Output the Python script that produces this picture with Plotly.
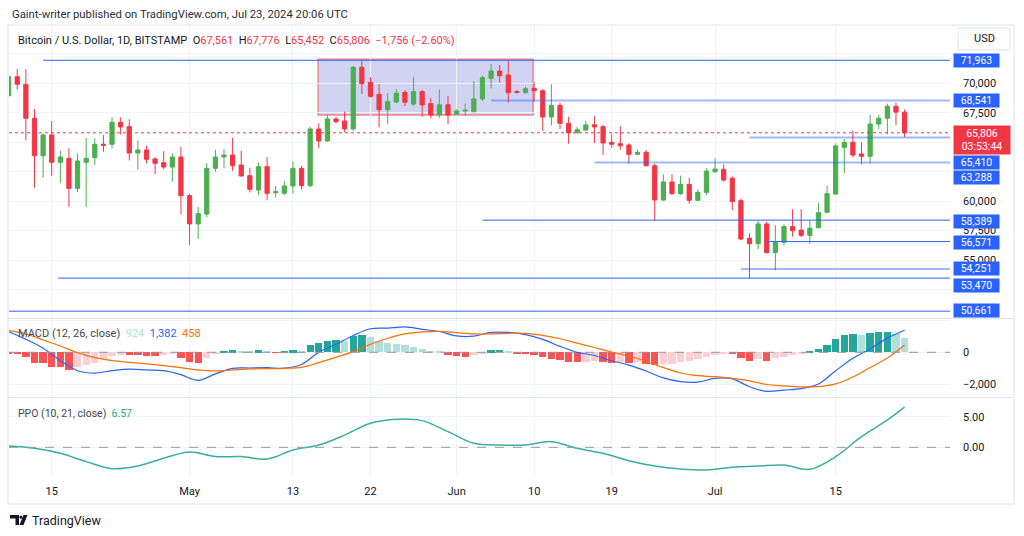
import plotly.graph_objects as go
import pandas as pd

# ---------------- data ----------------
dates = pd.date_range("2024-04-10", "2024-07-23", freq="D")

opens = [68960, 70570, 69920, 67040, 63860, 65620, 63300, 63640, 61090, 63300, 63690, 64830, 64830, 66700, 66330, 64090, 64350, 63590, 63270, 62900, 63750,
         60470, 58070, 58910, 62790, 63750, 63920, 63070, 62170, 60950, 62930, 60720, 60670, 61290, 62790, 61320, 66130, 65110, 66980, 66810, 66130, 71370, 70090, 69070, 67770, 68420, 69240, 68250, 69300, 68280, 67320, 68190,
         67380, 67660, 67600, 68680, 70430, 71050, 70710, 69300, 69210, 69580, 69380, 67150, 68140, 66610, 65810, 66040, 66490, 66330, 65000, 64880, 64770, 63980, 64150, 63010, 60100, 61630, 60640, 61430, 60075, 60750,
         62500, 62700, 61950, 60040, 56850, 56390, 58070, 55630, 56510, 57840, 57550, 57100, 57750, 59060, 60610, 64570, 65000, 64010, 63810, 66550, 67040, 68060, 67561]
highs = [70750, 71220, 71220, 67830, 65763, 66810, 64290, 64490, 64030, 65390, 65340, 65620, 67120, 67120, 66950, 65140, 64710, 63730, 64240, 64060, 64630,
         60640, 59510, 63220, 64380, 64430, 65390, 64260, 62840, 63270, 63750, 61290, 61710, 63350, 62990, 66330, 66610, 67320, 67170, 67600, 71480, 71900, 70540, 69950, 69160, 69520, 69410, 70520, 69440, 68740, 69490, 68930,
         67800, 68280, 70200, 70650, 71650, 71560, 71900, 69420, 69720, 70090, 69520, 69920, 68360, 67170, 66300, 66810, 67230, 66470, 65680, 66360, 64910, 64370, 64350, 63180, 62280, 62280, 62170, 62000, 61010, 62790,
         63640, 63130, 62110, 60240, 57270, 58320, 58260, 57980, 58040, 59310, 59340, 58400, 59870, 61320, 64910, 65280, 66020, 65000, 67320, 67320, 68280, 68360, 67776]
lows = [68800, 69465, 65170, 61145, 62000, 62165, 61570, 59530, 60750, 59530, 63070, 64200, 64490, 65680, 63470, 62670, 63220, 62280, 62700, 61650, 58890,
        56280, 56790, 58660, 62500, 62790, 62570, 62080, 60750, 60530, 60075, 60330, 60530, 60670, 61010, 61180, 64490, 65050, 66610, 65850, 65960, 69100, 68790, 66270, 66530, 68360, 68080, 68110, 67150, 67040, 67090, 66530,
        67300, 67230, 67550, 68510, 69580, 70060, 68360, 69150, 69130, 68450, 65960, 66410, 66130, 64880, 65760, 65980, 64940, 63920, 64540, 64370, 63180, 63920, 62960, 58340, 60040, 60530, 60530, 59790, 60040, 60530,
        62370, 61650, 59230, 56680, 53450, 55940, 55570, 54130, 56220, 56990, 56960, 56390, 57700, 59000, 60530, 62370, 63730, 63130, 63180, 66130, 65680, 66470, 65452]
closes = [70570, 69920, 67040, 63860, 65620, 63300, 63750, 61090, 63410, 63640, 64830, 64750, 66700, 66300, 64090, 64350, 63560, 63220, 62900, 63750, 60470,
          58070, 58940, 62790, 63750, 63920, 63010, 62140, 61010, 62930, 60670, 60800, 61290, 62790, 61320, 66130, 65110, 66980, 66750, 66130, 71370, 69980, 68900, 67770, 68450, 69160, 68400, 69300, 68170, 67320, 68190, 67320,
          67660, 67720, 68680, 70480, 71050, 70650, 69210, 69240, 69550, 69380, 67150, 68140, 66610, 65810, 66070, 66470, 66300, 64940, 64830, 64710, 63980, 64150, 63010, 60100, 61630, 60640, 61430, 60075, 60750, 62560,
          62730, 61800, 59960, 56790, 56390, 58070, 55630, 56510, 57840, 57490, 57100, 57700, 59020, 60640, 64690, 65000, 63920, 63810, 66550, 67040, 68060, 67561, 65806]
change_abs = 1756
change_pct = 2.60

level_prices = [71963, 68541, 65410, 63288, 58389, 56571, 54251, 53470, 50661]
level_starts = ["2024-04-14", "2024-06-05", "2024-07-05", "2024-06-17", "2024-06-04",
                "2024-07-07", "2024-07-04", "2024-04-15 17:30", "2024-04-10 01:00"]
level_light = [False, True, True, True, False, False, True, False, False]
label_shift = [0, 0, -25, -15, -1, -1, 0, -7, 1]

zone_dates = ["2024-05-15 22:00", "2024-06-09 21:00"]
zone_prices = [67320, 72040]

countdown = "03:53:44"

hist = [-100, -125, -312, -646, -687, -896, -937, -1104, -937, -792, -646, -437, -229, -146, -156, -167, -208, -229, -187, -104, -375,
        -583, -646, -375, -104, 83, 125, 83, 62, 125, 62, -42, 21, 125, 104, 437, 562, 687, 771, 687, 1042, 1083, 937, 729, 583, 542, 437, 354, 187, 62, 21, -167,
        -208, -271, -167, -62, 125, 135, 62, -83, -127, -140, -318, -403, -488, -615, -636, -615, -551, -636, -657, -594, -657, -600, -742, -806, -742, -700, -636, -551, -424, -276,
        -148, -85, -127, -360, -530, -445, -530, -382, -276, -191, -127, 42, 191, 466, 827, 1081, 1145, 1081, 1187, 1250, 1260, 1166, 924]

macd_dates = dates[::2]
macd_line = [1291, 812, 250, -521, -1150, -1300, -1150, -1050, -1100, -1150,
             -1400, -1750, -1350, -1000, -980, -960, -990, -760, 0, 500,
             1050, 1470, 1510, 1583, 1437, 1300, 1021, 1010, 1240, 1249,
             1110, 810, 370, 0, -200, -530, -800, -1170, -1600, -1830,
             -1860, -1630, -1660, -2150, -2440, -2360, -2270, -1980, -1155, -370,
             210, 885, 1382]
signal_line = [1354, 1146, 771, 396, -21, -333, -521, -625, -729, -833,
               -958, -1104, -1166, -1104, -1041, -1021, -1000, -937, -646, -312,
               42, 500, 875, 1146, 1271, 1312, 1229, 1146, 1146, 1187,
               1187, 1060, 848, 572, 297, 21, -233, -573, -954, -1293,
               -1463, -1526, -1632, -1781, -2014, -2099, -2162, -2141, -1971, -1548,
               -954, -360, 458]

ppo_dates = ["2024-04-10", "2024-04-13", "2024-04-16", "2024-04-19", "2024-04-22", "2024-04-25", "2024-04-28",
             "2024-05-01", "2024-05-04", "2024-05-07", "2024-05-10", "2024-05-13", "2024-05-16", "2024-05-19",
             "2024-05-22", "2024-05-25", "2024-05-28", "2024-05-31", "2024-06-03", "2024-06-06", "2024-06-09",
             "2024-06-12", "2024-06-15", "2024-06-18", "2024-06-21", "2024-06-24", "2024-06-27", "2024-06-30",
             "2024-07-03", "2024-07-06", "2024-07-09", "2024-07-12", "2024-07-15", "2024-07-18", "2024-07-21", "2024-07-23"]
ppo_vals = [0.22, -0.16, -0.98, -2.34, -3.49, -3.05, -1.80, -0.76, -1.52, -1.52, -1.91, -0.44, 0.38, 2.0,
            3.92, 4.58, 4.36, 2.56, 0.65, 0.38, 0.38, 0.93, -0.16, -0.98, -2.18, -3.05, -3.54, -3.70,
            -3.27, -3.05, -2.89, -3.59, -1.52, 1.74, 4.47, 6.57]

tick_dates = ["2024-04-15", "2024-05-01", "2024-05-13", "2024-05-22", "2024-06-01",
              "2024-06-10", "2024-06-19", "2024-07-01", "2024-07-15"]
tick_text = ["15", "May", "13", "22", "Jun", "10", "19", "Jul", "15"]
price_ticks = [52500, 55000, 57500, 60000, 62500, 65000, 67500, 70000, 72500]
price_shown = [False, True, True, True, False, False, True, True, False]

# ---------------- helpers ----------------
W, H = 1024, 536
FONT = "Roboto"
TXT = "#131722"
GRID = "#f0f3fa"


def px(x):
    return x / W


def py(y):
    return 1 - y / H


XR = ["2024-04-10 01:00", "2024-07-28 06:30"]
XDOM = [px(9), px(950)]

fig = go.Figure()

fig.add_trace(go.Candlestick(
    x=dates, open=opens, high=highs, low=lows, close=closes,
    increasing=dict(line=dict(color="#4caf50", width=1), fillcolor="#4caf50"),
    decreasing=dict(line=dict(color="#f23645", width=1), fillcolor="#f23645"),
    whiskerwidth=0, xaxis="x", yaxis="y", showlegend=False, hoverinfo="skip"))

hist_colors = []
prev = 0
for v in hist:
    if v >= 0:
        hist_colors.append("#26a69a" if v > prev else "#b2dfdb")
    else:
        hist_colors.append("#ff5252" if v < prev else "#ffcdd2")
    prev = v

fig.add_trace(go.Bar(x=dates, y=hist, marker=dict(color=hist_colors, line=dict(width=0)),
                     width=0.85 * 86400000, xaxis="x2", yaxis="y2", showlegend=False, hoverinfo="skip"))
fig.add_trace(go.Scatter(x=macd_dates, y=macd_line, mode="lines",
                         line=dict(color="#2962ff", width=1.2, shape="spline"),
                         xaxis="x2", yaxis="y2", showlegend=False, hoverinfo="skip"))
fig.add_trace(go.Scatter(x=macd_dates, y=signal_line, mode="lines",
                         line=dict(color="#ff6d00", width=1.2, shape="spline"),
                         xaxis="x2", yaxis="y2", showlegend=False, hoverinfo="skip"))
fig.add_trace(go.Scatter(x=ppo_dates, y=ppo_vals, mode="lines",
                         line=dict(color="#3aae9f", width=1.5, shape="spline"),
                         xaxis="x3", yaxis="y3", showlegend=False, hoverinfo="skip"))

shapes = []
annotations = []

# zone rectangle
shapes.append(dict(type="rect", xref="x", yref="y", x0=zone_dates[0], x1=zone_dates[1],
                   y0=zone_prices[0], y1=zone_prices[1], fillcolor="rgba(66,80,200,0.25)",
                   line=dict(color="#f2838e", width=1.5), layer="below"))

# horizontal levels
for p, s, light in zip(level_prices, level_starts, level_light):
    shapes.append(dict(type="line", xref="x", yref="y", x0=s, x1=XR[1], y0=p, y1=p,
                       line=dict(color="rgba(41,98,255,0.45)" if light else "#2962ff",
                                 width=2 if light else 1)))

# current price dotted line
last_price = closes[-1]
shapes.append(dict(type="line", xref="x", yref="y", x0=XR[0], x1=XR[1], y0=last_price, y1=last_price,
                   line=dict(color="#f23645", width=1, dash="dot")))

# zero lines
shapes.append(dict(type="line", xref="x2", yref="y2", x0=XR[0], x1=XR[1], y0=0, y1=0,
                   line=dict(color="#9598a1", width=1, dash="dash")))
shapes.append(dict(type="line", xref="x3", yref="y3", x0=XR[0], x1=XR[1], y0=0, y1=0,
                   line=dict(color="#9598a1", width=1, dash="dash")))

# frame & pane separators
FR = "#e0e3eb"
shapes.append(dict(type="rect", xref="paper", yref="paper", x0=px(8), x1=px(1014), y0=py(504), y1=py(25),
                   line=dict(color=FR, width=1), fillcolor="rgba(0,0,0,0)", layer="below"))
for yy in (318.5, 397.5):
    shapes.append(dict(type="line", xref="paper", yref="paper", x0=px(8), x1=px(1014), y0=py(yy), y1=py(yy),
                       line=dict(color=FR, width=1)))

# USD box
shapes.append(dict(type="rect", xref="paper", yref="paper", x0=px(958), x1=px(1010), y0=py(50), y1=py(28),
                   line=dict(color=FR, width=1), fillcolor="white"))

# TradingView logo (simple glyph)
shapes.append(dict(type="path", xref="paper", yref="paper",
                   path=f"M {px(10)},{py(515)} L {px(19)},{py(515)} L {px(19)},{py(525)} L {px(15.5)},{py(525)} L {px(15.5)},{py(518.5)} L {px(10)},{py(518.5)} Z",
                   fillcolor="#131722", line=dict(width=0)))
shapes.append(dict(type="circle", xref="paper", yref="paper", x0=px(19.5), x1=px(22.5), y0=py(518.8), y1=py(515.6),
                   fillcolor="#131722", line=dict(width=0)))
shapes.append(dict(type="path", xref="paper", yref="paper",
                   path=f"M {px(23.5)},{py(515)} L {px(27.5)},{py(515)} L {px(23.5)},{py(525)} L {px(19.5)},{py(525)} Z",
                   fillcolor="#131722", line=dict(width=0)))

# level labels on the price scale
for p, sh in zip(level_prices, label_shift):
    annotations.append(dict(xref="paper", yref="y", x=px(953), y=p, yshift=sh, xanchor="left",
                            yanchor="middle", text=f"{p:,}", showarrow=False, bgcolor="#2962ff",
                            font=dict(family=FONT, size=10.5, color="white"),
                            width=42, height=10, borderpad=1.5, align="center"))
annotations.append(dict(xref="paper", yref="y", x=px(953), y=last_price, yshift=-7, xanchor="left",
                        yanchor="middle", text=f"{last_price:,}<br>{countdown}", showarrow=False,
                        bgcolor="#f23645", font=dict(family=FONT, size=10.5, color="white"),
                        width=53, height=25, borderpad=1.5, align="center"))

annotations.append(dict(xref="paper", yref="paper", x=px(984), y=py(39), xanchor="center", yanchor="middle",
                        text="USD", showarrow=False, font=dict(family=FONT, size=11, color=TXT)))

# header texts
annotations.append(dict(xref="paper", yref="paper", x=px(10), y=py(14), xanchor="left", yanchor="middle",
                        text="Gaint-writer published on TradingView.com, Jul 23, 2024 20:06 UTC",
                        showarrow=False, font=dict(family=FONT, size=11.3, color="#2a2e39")))
RED = "#f23645"
legend_txt = (f"Bitcoin / U.S. Dollar, 1D, BITSTAMP  O<span style='color:{RED}'>{opens[-1]:,}</span>"
              f"  H<span style='color:{RED}'>{highs[-1]:,}</span>"
              f"  L<span style='color:{RED}'>{lows[-1]:,}</span>"
              f"  C<span style='color:{RED}'>{closes[-1]:,}</span>"
              f"  <span style='color:{RED}'>\u2212{change_abs:,} (\u2212{change_pct:.2f}%)</span>")
annotations.append(dict(xref="paper", yref="paper", x=px(16), y=py(40), xanchor="left", yanchor="middle",
                        text=legend_txt, showarrow=False, font=dict(family=FONT, size=11, color=TXT)))

macd_txt = (f"MACD (12, 26, close)  <span style='color:#b2dfdb'>{hist[-1]:,}</span>"
            f"  <span style='color:#2962ff'>{macd_line[-1]:,}</span>"
            f"  <span style='color:#ff6d00'>{signal_line[-1]:,}</span>")
annotations.append(dict(xref="paper", yref="paper", x=px(16), y=py(333), xanchor="left", yanchor="middle",
                        text=macd_txt, showarrow=False, font=dict(family=FONT, size=11, color="#434651")))
ppo_txt = f"PPO (10, 21, close)  <span style='color:#26a69a'>{ppo_vals[-1]:.2f}</span>"
annotations.append(dict(xref="paper", yref="paper", x=px(16), y=py(413), xanchor="left", yanchor="middle",
                        text=ppo_txt, showarrow=False, font=dict(family=FONT, size=10.5, color="#434651")))

annotations.append(dict(xref="paper", yref="paper", x=px(30), y=py(520), xanchor="left", yanchor="middle",
                        text="TradingView", showarrow=False, font=dict(family=FONT, size=12.5, color=TXT)))

common_x = dict(range=XR, type="date", domain=XDOM, tickvals=tick_dates, showgrid=True,
                gridcolor=GRID, gridwidth=1, zeroline=False, showline=False, ticks="", fixedrange=True)
tickf = dict(family=FONT, size=11, color=TXT)
common_y = dict(side="right", showgrid=True, gridcolor=GRID, zeroline=False, showline=False,
                ticks="", ticklabelstandoff=12, tickfont=tickf, fixedrange=True)

fig.update_layout(
    width=W, height=H, margin=dict(l=0, r=0, t=0, b=0),
    paper_bgcolor="white", plot_bgcolor="white",
    showlegend=False, hovermode=False, dragmode=False, bargap=0,
    font=dict(family=FONT, color=TXT),
    xaxis=dict(**common_x, anchor="y", showticklabels=False, rangeslider=dict(visible=False)),
    xaxis2=dict(**common_x, anchor="y2", showticklabels=False),
    xaxis3=dict(**common_x, anchor="y3", showticklabels=True, ticktext=tick_text, tickfont=tickf,
                ticklabelstandoff=6),
    yaxis=dict(**common_y, anchor="x", domain=[py(318), py(26)], range=[50083, 74873],
               tickvals=price_ticks,
               ticktext=[f"{t:,}" if s else "" for t, s in zip(price_ticks, price_shown)]),
    yaxis2=dict(**common_y, anchor="x2", domain=[py(397), py(319)], range=[-2794, 2081],
                tickvals=[-2000, 0, 2000], ticktext=["\u22122,000", "0", ""]),
    yaxis3=dict(**common_y, anchor="x3", domain=[py(477), py(398)], range=[-4.85, 8.06],
                tickvals=[0, 5], ticktext=["0.00", "5.00"]),
    shapes=shapes, annotations=annotations,
)

fig.write_html("out.html")
